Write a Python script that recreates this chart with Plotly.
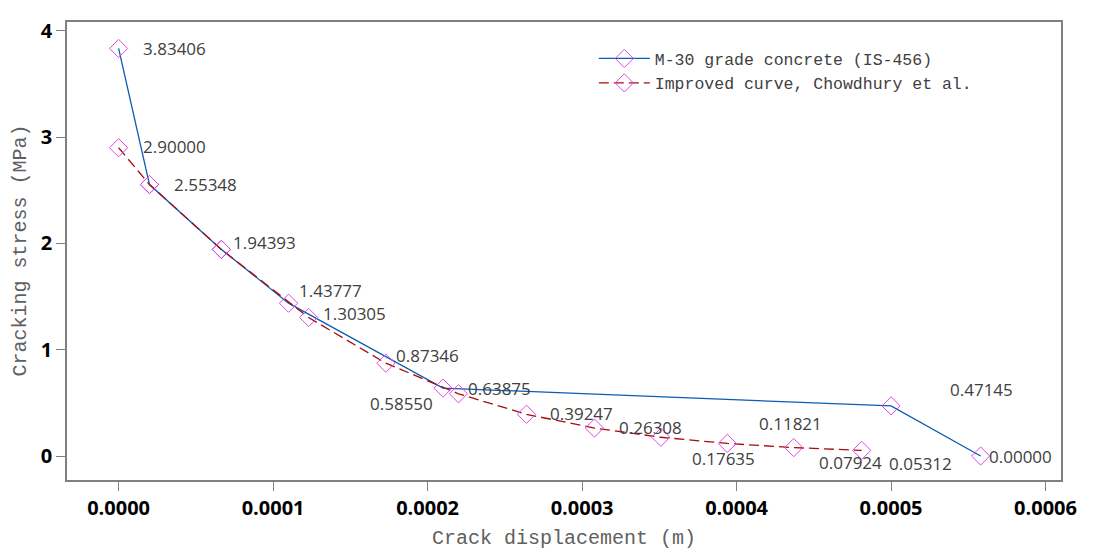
import plotly.graph_objects as go

# M-30 grade concrete (IS-456)
is_disp = [0.0, 0.00002, 0.0000665, 0.00011, 0.00021, 0.0005, 0.000558]
is_stress = [3.83406, 2.55348, 1.94393, 1.43777, 0.63875, 0.47145, 0.0]

# Improved curve, Chowdhury et al.
imp_disp = [0.0, 0.00002, 0.0000665, 0.000123, 0.000173, 0.00022, 0.000264,
            0.000308, 0.000351, 0.000394, 0.000437, 0.000481]
imp_stress = [2.9, 2.55348, 1.94393, 1.30305, 0.87346, 0.5855, 0.39247,
              0.26308, 0.17635, 0.11821, 0.07924, 0.05312]

x_ticks = [0.0, 0.0001, 0.0002, 0.0003, 0.0004, 0.0005, 0.0006]
y_ticks = [0, 1, 2, 3, 4]

# label offsets in pixels (dx, dy), dy positive = up
is_offsets = [(56, 0), None, None, (42, 13), (56, 0), (90, 16), (40, 0)]
imp_offsets = [(56, 1), (56, 0), (43, 7), (46, 4), (42, 8), (-57, -10), (55, 1),
               (56, 1), (63, -21), (63, 20), (57, -15), (59, -13)]

mono = "Liberation Mono"
marker = dict(symbol="diamond-open", size=14, color="#e048e6", line=dict(width=1))

fig = go.Figure()
fig.add_trace(go.Scatter(
    x=is_disp, y=is_stress, mode="lines+markers",
    name="M-30 grade concrete (IS-456)",
    line=dict(color="#0a5cb4", width=1.3),
    marker=marker,
))
fig.add_trace(go.Scatter(
    x=imp_disp, y=imp_stress, mode="lines+markers",
    name="Improved curve, Chowdhury et al.",
    line=dict(color="#a80c0c", width=1.3, dash="10px,5px"),
    marker=marker,
))

annotations = []
for xs, ys, offs in [(is_disp, is_stress, is_offsets), (imp_disp, imp_stress, imp_offsets)]:
    for xv, yv, off in zip(xs, ys, offs):
        if off is None:
            continue
        annotations.append(dict(
            x=xv, y=yv, text=f"{yv:.5f}", showarrow=False,
            xshift=off[0], yshift=off[1],
            font=dict(family="Open Sans", size=17, color="#404040"),
        ))

# y axis title as an annotation so it sits close to the page edge
annotations.append(dict(
    x=0, y=0.5, xref="paper", yref="paper", xshift=-61, textangle=-90,
    text="Cracking stress (MPa)", showarrow=False,
    font=dict(family=mono, size=20, color="#606060"),
))

axis_common = dict(
    showline=True, linecolor="#808080", linewidth=1.5, mirror=True,
    ticks="outside", ticklen=9, tickcolor="#808080", tickwidth=1,
    showgrid=False, zeroline=False, automargin=False,
    tickfont=dict(family="Open Sans", size=20, color="black", weight=700),
)

fig.update_layout(
    width=1087, height=546,
    margin=dict(l=59, r=34, t=14, b=74),
    plot_bgcolor="white", paper_bgcolor="white",
    xaxis=dict(range=[-0.0000334, 0.00061], tickvals=x_ticks, tickformat=".4f",
               title=dict(text="Crack displacement (m)", standoff=10,
                          font=dict(family=mono, size=20, color="#606060")),
               **axis_common),
    yaxis=dict(range=[-0.2256, 4.083], tickvals=y_ticks, **axis_common),
    legend=dict(x=0.530, y=0.958, xanchor="left", yanchor="top",
                bgcolor="rgba(0,0,0,0)",
                font=dict(family=mono, size=16.5, color="#404040"),
                itemwidth=51, tracegroupgap=0),
    annotations=annotations,
    showlegend=True,
)

fig.write_html("out.html")
